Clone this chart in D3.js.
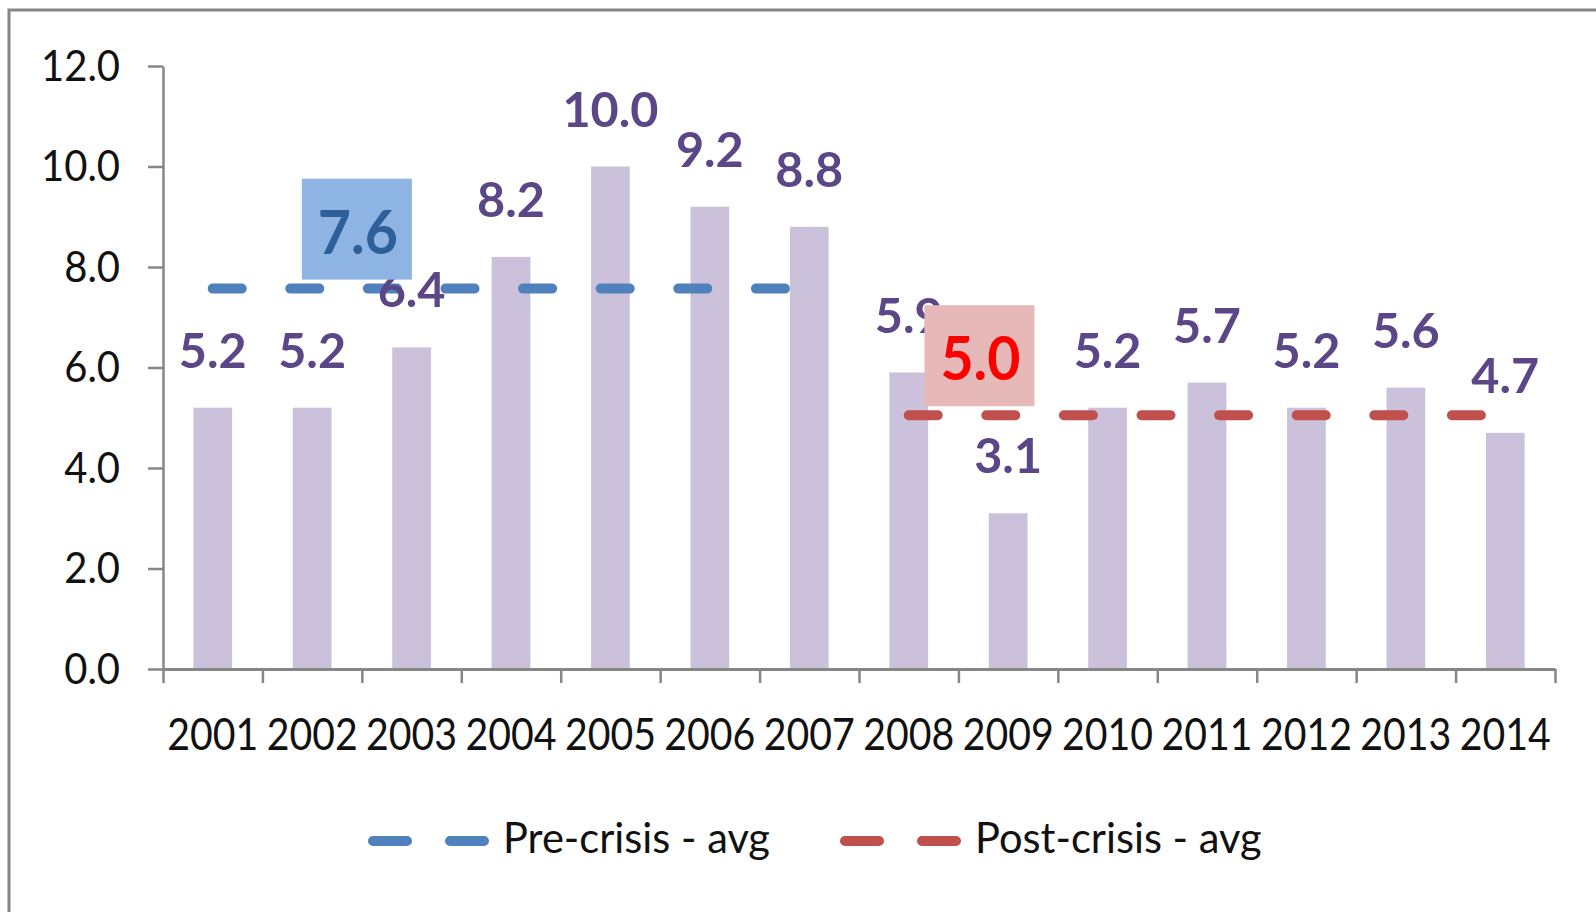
<!DOCTYPE html>
<html>
<head>
<meta charset="utf-8">
<script src="https://cdn.jsdelivr.net/npm/d3@7"></script>
<style>
  html, body { margin: 0; padding: 0; background: #fff; }
  svg { display: block; }
  .ytick { font-family: Lato, "Open Sans", sans-serif; font-size: 43px; fill: #111; }
  .xtick { font-family: Lato, "Open Sans", sans-serif; font-size: 44px; fill: #111; }
  .dlabel { font-family: Lato, "Open Sans", sans-serif; font-size: 48px; font-weight: bold; fill: #5b4687; }
  .boxlabel { font-family: Lato, "Open Sans", sans-serif; font-size: 61px; font-weight: bold; }
  .legend { font-family: Lato, "Open Sans", sans-serif; font-size: 42px; fill: #111; }
</style>
</head>
<body>
<svg id="chart" width="1596" height="912"></svg>
<script>
// ---- data ----
const years = ["2001","2002","2003","2004","2005","2006","2007","2008","2009","2010","2011","2012","2013","2014"];
const growth = [5.2, 5.2, 6.4, 8.2, 10.0, 9.2, 8.8, 5.9, 3.1, 5.2, 5.7, 5.2, 5.6, 4.7];
const yTicks = [0, 2, 4, 6, 8, 10, 12];
const preYears = ["2001","2002","2003","2004","2005","2006","2007"];
const preAvg = 7.57;
const preAvgLabel = "7.6";
const postYears = ["2008","2009","2010","2011","2012","2013","2014"];
const postAvg = 5.05;
const postAvgLabel = "5.0";
const seriesNames = ["Pre-crisis - avg", "Post-crisis - avg"];

// ---- styling ----
const barColor = "#ccc1da";
const preColor = "#4f81bd";
const postColor = "#c0504d";
const axisColor = "#868686";

const svg = d3.select("#chart");

const x = d3.scaleBand().domain(years).range([163, 1555]).paddingInner(0.61).paddingOuter(0.305);
const xLin = d3.scaleLinear().domain([0, years.length]).range([163, 1555]);
const y = d3.scaleLinear().domain([0, 12]).range([669, 66]);
const cx = d => x(d) + x.bandwidth() / 2;

function kFor(cls, str, target) {
  const t = svg.append("text").attr("class", cls).text(str);
  const w = t.node().getComputedTextLength();
  t.remove();
  return target / w;
}
function fit(sel, k) {
  sel.each(function () {
    const w = this.getComputedTextLength();
    d3.select(this).attr("textLength", w * k).attr("lengthAdjust", "spacingAndGlyphs");
  });
}

// outer border
svg.append("rect").attr("x", 9).attr("y", 10).attr("width", 1700).attr("height", 1000)
  .attr("fill", "none").attr("stroke", axisColor).attr("stroke-width", 3);

// bars
svg.append("g").selectAll("rect").data(years).join("rect")
  .attr("x", d => x(d)).attr("width", x.bandwidth())
  .attr("y", (d, i) => y(growth[i])).attr("height", (d, i) => y(0) - y(growth[i]))
  .attr("fill", barColor);

// y axis
const yAxis = svg.append("g").attr("transform", "translate(163,0)")
  .call(d3.axisLeft(y).tickValues(yTicks).tickFormat(d3.format(".1f")).tickSize(15).tickSizeOuter(0).tickPadding(28));
yAxis.select(".domain").attr("stroke", axisColor).attr("stroke-width", 2.5);
yAxis.selectAll(".tick line").attr("stroke", axisColor).attr("stroke-width", 2.5);
const yt = yAxis.selectAll(".tick text").attr("class", "ytick").attr("dy", null).attr("y", 14)
  .attr("font-family", null).attr("font-size", null).attr("fill", null);
fit(yt, kFor("ytick", "12.0", 79));
yAxis.attr("font-family", null).attr("font-size", null);

// x axis (boundary ticks)
const xAxis = svg.append("g").attr("transform", "translate(0,669)")
  .call(d3.axisBottom(xLin).tickValues(d3.range(years.length + 1)).tickFormat("").tickSize(14).tickSizeOuter(0));
xAxis.select(".domain").attr("stroke", axisColor).attr("stroke-width", 3);
xAxis.selectAll(".tick line").attr("stroke", axisColor).attr("stroke-width", 2.5);

// x labels
const xLab = svg.append("g").attr("transform", "translate(0,669)")
  .call(d3.axisBottom(x).tickSize(0).tickPadding(0));
xLab.select(".domain").remove();
const xt = xLab.selectAll(".tick text").attr("class", "xtick").attr("dy", null).attr("y", 81)
  .attr("font-family", null).attr("font-size", null).attr("fill", null);
xLab.attr("font-family", null).attr("font-size", null);
fit(xt, kFor("xtick", "2001", 91));

// average lines
const line = d3.line().x(d => cx(d.year)).y(d => y(d.v));
svg.append("path").datum(preYears.map(yr => ({ year: yr, v: preAvg })))
  .attr("d", line).attr("fill", "none").attr("stroke", preColor).attr("stroke-width", 10)
  .attr("stroke-linecap", "round").attr("stroke-dasharray", "29 48.6");
svg.append("path").datum(postYears.map(yr => ({ year: yr, v: postAvg })))
  .attr("d", line).attr("fill", "none").attr("stroke", postColor).attr("stroke-width", 10)
  .attr("stroke-linecap", "round").attr("stroke-dasharray", "29 48.6");

// data labels
const dl = svg.append("g").selectAll("text").data(years).join("text")
  .attr("class", "dlabel").attr("text-anchor", "middle")
  .attr("x", d => cx(d)).attr("y", (d, i) => y(growth[i]) - 40)
  .text((d, i) => d3.format(".1f")(growth[i]));
fit(dl, kFor("dlabel", "10.0", 96));

// average annotation boxes
const kBox = kFor("boxlabel", "7.6", 80);
function avgBox(xc, v, label, fill, color) {
  const g = svg.append("g");
  const bw = 110, bh = 101;
  const bottom = y(v) - 9;
  g.append("rect").attr("x", xc - bw / 2).attr("y", bottom - bh).attr("width", bw).attr("height", bh).attr("fill", fill);
  const t = g.append("text").attr("class", "boxlabel").attr("text-anchor", "middle")
    .attr("x", xc + 1).attr("y", bottom - 26).attr("fill", color).text(label);
  fit(t, kBox);
}
avgBox(xLin(2) - 5, preAvg, preAvgLabel, "#8db4e2", "#2f5f98");
avgBox(xLin(8) + 21, postAvg, postAvgLabel, "#e6b9b8", "#ff0000");

// legend
const legendItems = [
  { name: seriesNames[0], color: preColor, x0: 373 },
  { name: seriesNames[1], color: postColor, x0: 845 }
];
const kLeg = kFor("legend", seriesNames[0], 267);
legendItems.forEach(it => {
  svg.append("line").attr("x1", it.x0).attr("x2", it.x0 + 111).attr("y1", 841).attr("y2", 841)
    .attr("stroke", it.color).attr("stroke-width", 10).attr("stroke-linecap", "round")
    .attr("stroke-dasharray", "34 43");
  const t = svg.append("text").attr("class", "legend").attr("x", it.x0 + 130).attr("y", 853).text(it.name);
  fit(t, kLeg);
});
</script>
</body>
</html>
